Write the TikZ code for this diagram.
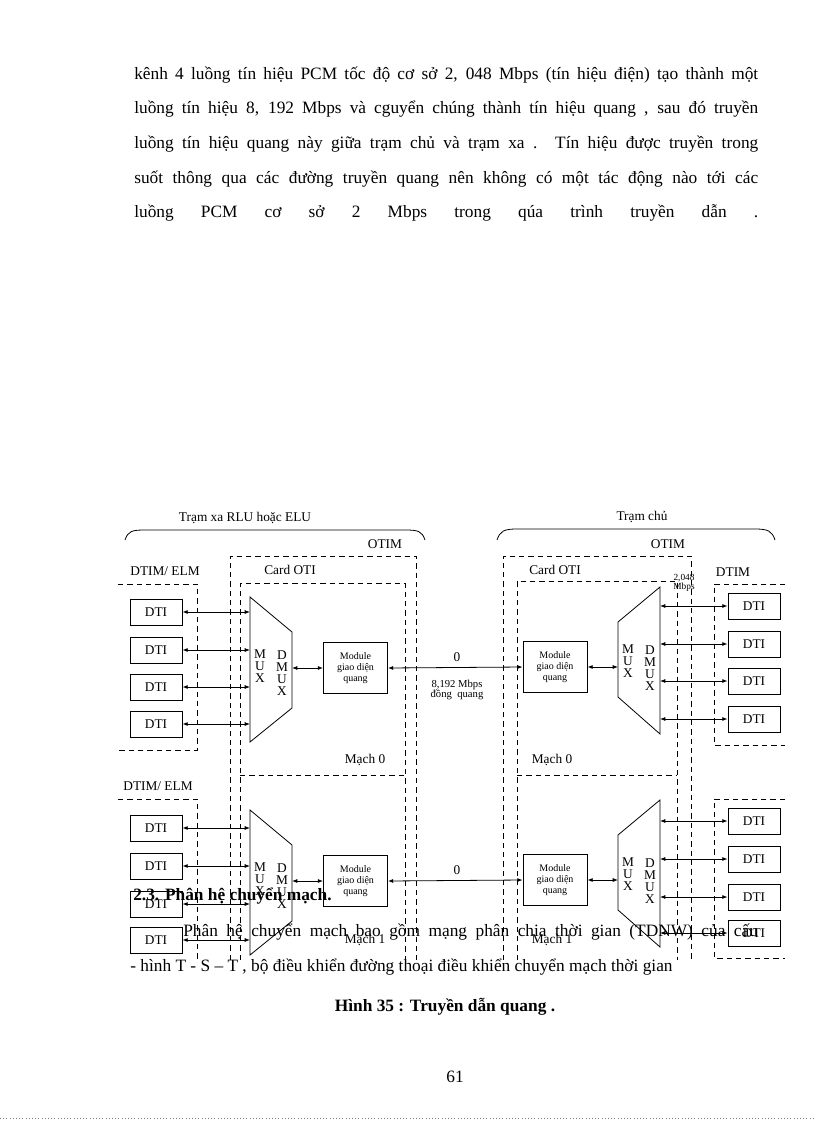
\documentclass[tikz,border=0pt]{standalone}
\usepackage{fontspec}
\setmainfont{Liberation Serif}
\usetikzlibrary{arrows.meta}
\begin{document}
\begin{tikzpicture}[x=0.75pt,y=-0.75pt,
  dsh/.style={dashed,line width=0.5pt,dash pattern=on 4pt off 3pt},
  dti/.style={draw,line width=0.6pt,minimum width=39pt,minimum height=19.5pt,inner sep=0pt,font=\fontsize{10}{11}\selectfont},
  modl/.style={draw,line width=0.6pt,minimum width=48pt,minimum height=38pt,inner sep=0pt,align=center,font=\fontsize{7.5}{8.5}\selectfont},
  lbl/.style={font=\fontsize{10}{11}\selectfont,inner sep=0pt},
  bia/.style={{Latex[length=4pt,width=3pt]}-{Latex[length=4pt,width=3pt]},line width=0.6pt},
  body/.style={anchor=west,inner sep=0pt,font=\fontsize{13}{15}\selectfont}]
\useasboundingbox (0,0) rectangle (816,1123);
% top text
\node[body] (t1) at (134,75) {\makebox[468pt][s]{kênh 4 luồng tín hiệu PCM tốc độ cơ sở 2, 048 Mbps (tín hiệu điện) tạo thành một}};
\node[body] (t2) at (134,109) {\makebox[468pt][s]{luồng tín hiệu 8, 192 Mbps và cguyển chúng thành tín hiệu quang , sau đó truyền}};
\node[body] (t3) at (134,144) {\makebox[468pt][s]{luồng tín hiệu quang này giữa trạm chủ và trạm xa . Tín hiệu được truyền trong}};
\node[body] (t4) at (134,179) {\makebox[468pt][s]{suốt thông qua các đường truyền quang nên không có một tác động nào tới các}};
\node[body] (t5) at (134,213) {\makebox[468pt][s]{luồng PCM cơ sở 2 Mbps trong qúa trình truyền dẫn .}};
% braces
\draw[line width=0.6pt] (125,540) .. controls (128,531) and (132,530) .. (145,530) -- (405,530) .. controls (418,530) and (422,531) .. (425,540);
\draw[line width=0.6pt] (497,540) .. controls (500,531) and (504,529) .. (517,529) -- (755,529) .. controls (768,529) and (772,531) .. (775,540);
\node[lbl] (bl) at (245,518) {Trạm xa RLU hoặc ELU};
\node[lbl] (br) at (642,517) {Trạm chủ};
% OTIM boxes
\draw[dsh] (230,960) -- (230,556) -- (416,556) -- (416,960);
\draw[dsh] (503,960) -- (503,556) -- (691,556) -- (691,960);
\node[lbl] (o1) at (385,544) {OTIM};
\node[lbl] (o2) at (668,544) {OTIM};
% cards
\draw[dsh] (240,960) -- (240,583) -- (405,583) -- (405,960);
\draw[dsh] (240,775) -- (405,775);
\draw[dsh] (517,960) -- (517,581) -- (677,581) -- (677,960);
\draw[dsh] (517,775) -- (677,775);
\node[lbl] (c1) at (290,570) {Card OTI};
\node[lbl] (c2) at (555,570) {Card OTI};
\node[lbl] (m1) at (365,760) {Mạch 0};
\node[lbl] (m2) at (552,760) {Mạch 0};
\node[lbl] (m3) at (365,940) {Mạch 1};
\node[lbl] (m4) at (552,940) {Mạch 1};
% DTIM boxes
\draw[dsh] (118,584) -- (197,584) -- (197,750) -- (118,750);
\draw[dsh] (118,799) -- (197,799) -- (197,960);
\draw[dsh] (785,584) -- (714,584) -- (714,745) -- (785,745);
\draw[dsh] (785,799) -- (714,799) -- (714,958) -- (785,958);
\node[lbl] (d1) at (165,571) {DTIM/ ELM};
\node[lbl] (d2) at (158,786) {DTIM/ ELM};
\node[lbl] (d3) at (733,572) {DTIM};
\node[lbl,align=center,font=\fontsize{7}{7}\selectfont] (rate) at (684,583) {2,048\\Mbps};
% left muxes
\foreach \k/\dy in {a/0,b/213}{
  \draw[line width=0.6pt] (250,597+\dy) -- (292,632+\dy) -- (292,708+\dy) -- (250,742+\dy) -- cycle;
  \coordinate (lm\k) at (250,668+\dy);
  \node[lbl,align=center] at (260,666+\dy) {M\\[-2pt]U\\[-2pt]X};
  \node[lbl,align=center] at (282,673+\dy) {D\\[-2pt]M\\[-2pt]U\\[-2pt]X};
  \node[modl] (lmod\k) at (355.5,668+\dy) {Module\\giao diện\\quang};
  \coordinate (lmr\k) at (292,668+\dy);
  \draw[bia] (lmr\k) -- (lmod\k.west);
  \draw[line width=0.6pt,dash pattern=on 0pt off 100pt] (lmr\k) -- (lmr\k);
  \draw[line width=0.6pt] (618,625-3+\dy) -- (660,590-3+\dy) -- (660,737-3+\dy) -- (618,700-3+\dy) -- cycle;
  \node[lbl,align=center] at (628,661+\dy) {M\\[-2pt]U\\[-2pt]X};
  \node[lbl,align=center] at (650,668+\dy) {D\\[-2pt]M\\[-2pt]U\\[-2pt]X};
  \node[modl] (rmod\k) at (555,667+\dy) {Module\\giao diện\\quang};
  \coordinate (rml\k) at (618,667+\dy);
  \draw[bia] (rmod\k.east) -- (rml\k);
  \draw[bia] (lmod\k.east) -- (rmod\k.west);
  \node[lbl] at (457,657+\dy) {0};
}
\node[lbl,align=center,font=\fontsize{8}{8}\selectfont] (sp) at (457,690) {8,192 Mbps\\đồng\ \ quang};
% left DTIs
\foreach \i/\y in {1/612,2/650,3/687,4/724,5/828,6/866,7/904,8/940}{
  \node[dti] (ld\i) at (156,\y) {DTI};
  \draw[bia] (ld\i.east) -- (250,\y);
}
\foreach \i/\y in {1/606,2/644,3/681,4/719,5/821,6/859,7/897,8/933}{
  \node[dti] (rd\i) at (754,\y) {DTI};
  \draw[bia] (660,\y) -- (rd\i.west);
}
% overlay text
\node[body,font=\bfseries\fontsize{13}{15}\selectfont] (h) at (133,896) {2.3. Phân hệ chuyển mạch.};
\node[body] (p1) at (183,932) {\makebox[431pt][s]{Phân hệ chuyển mạch bao gồm mạng phân chia thời gian (TDNW) của cấu}};
\node[body] (p2) at (130,967) {- hình T - S – T , bộ điều khiển đường thoại điều khiển chuyển mạch thời gian};
\node[body,anchor=center,font=\bfseries\fontsize{13}{15}\selectfont] (cap) at (445,1007) {Hình 35 : Truyền dẫn quang .};
\node[body,anchor=center] (pg) at (455,1077) {61};
\draw[dotted,gray,line width=0.4pt] (0,1118) -- (816,1118);
\end{tikzpicture}
\end{document}
